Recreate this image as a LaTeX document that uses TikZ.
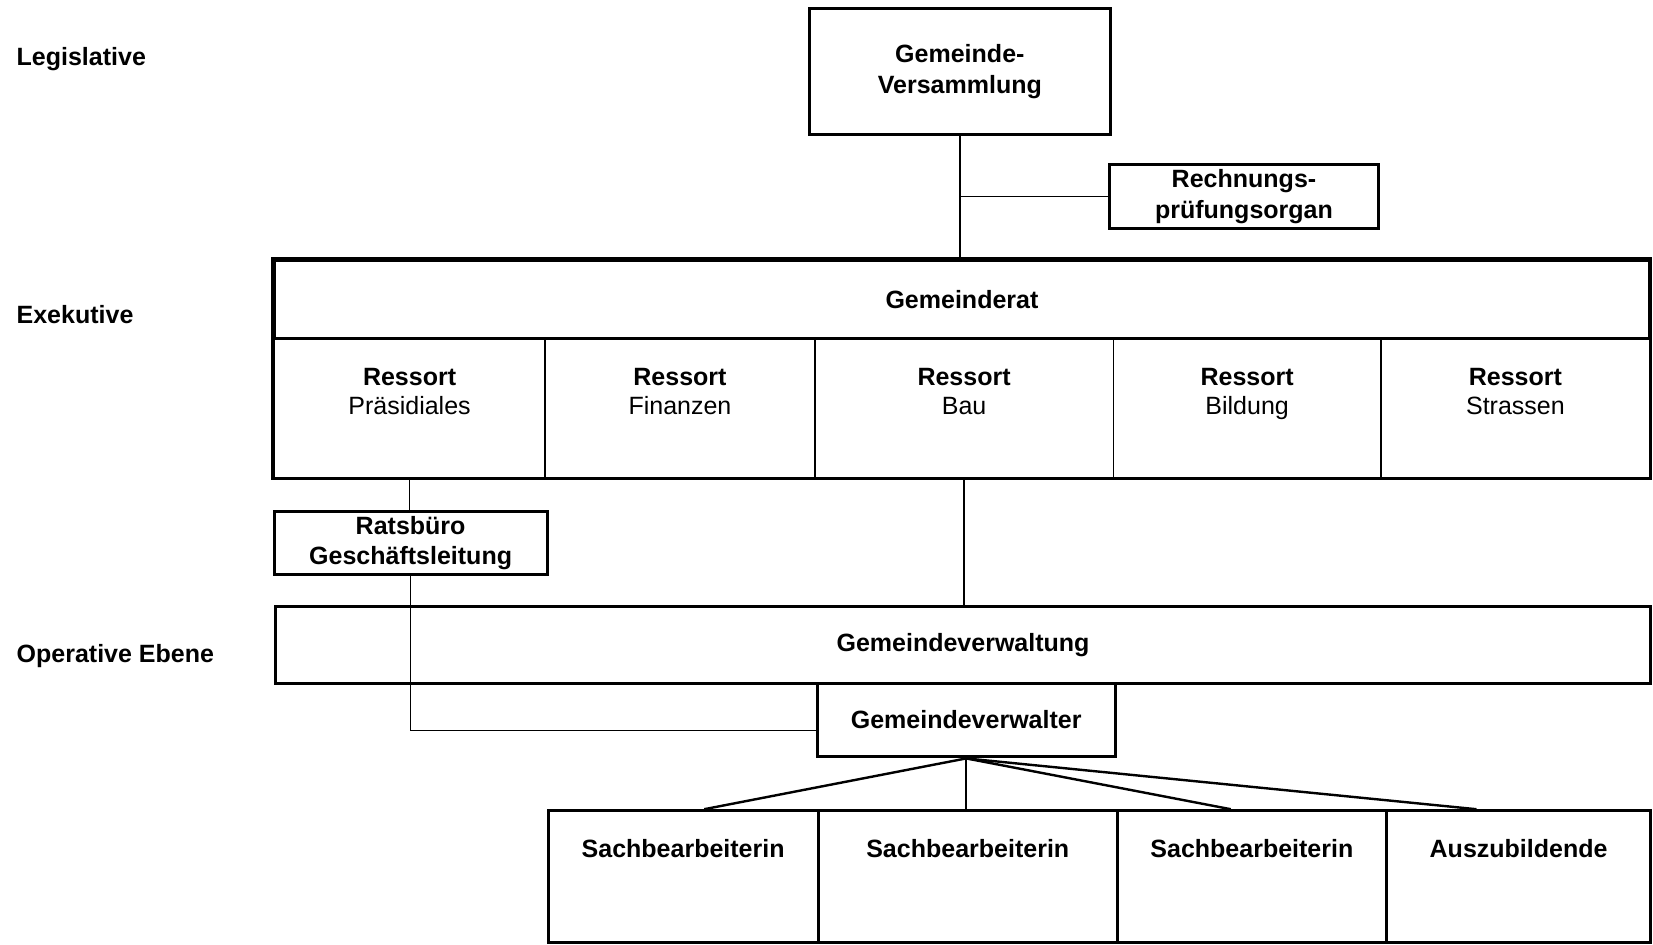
\documentclass[tikz,border=0pt]{standalone}
\usepackage{fontspec}
\setmainfont{Liberation Sans}
\tikzset{
  box/.style={draw, rectangle, line width=1.6pt, inner sep=0pt, align=center, font=\fontsize{13.5}{16.5}\selectfont\bfseries},
  cell/.style={draw, rectangle, line width=0.7pt, inner sep=0pt},
  ressort/.style={anchor=north, inner sep=0pt, yshift=-5.6mm, align=center, font=\fontsize{13.5}{16}\selectfont},
  lvl/.style={anchor=west, inner sep=0pt, font=\fontsize{13.5}{16}\selectfont\bfseries},
}
\begin{document}
\begin{tikzpicture}[x=0.2mm, y=-0.2mm, line width=0.9pt]
\useasboundingbox (0,0) rectangle (1568,896);
\node[lvl] (leg) at (15,56) {Legislative};
\node[lvl] (exe) at (15,298) {Exekutive};
\node[lvl] (ope) at (15,622) {Operative Ebene};

\node[box, minimum width=57mm, minimum height=24mm] (gv) at (910.5,68) {Gemeinde-\\Versammlung};
\node[box, minimum width=51.2mm, minimum height=12.2mm] (rpo) at (1180,186.5) {Rechnungs-\\prüfungsorgan};
\node[box, minimum width=261mm, minimum height=14.8mm] (rat) at (912.5,284) {Gemeinderat};
\node[cell, minimum width=51.4mm, minimum height=26.4mm, label={[ressort]north:\textbf{Ressort}\\Präsidiales}] (r1) at (388.5,387) {};
\node[cell, minimum width=51.2mm, minimum height=26.4mm, label={[ressort]north:\textbf{Ressort}\\Finanzen}] (r2) at (645,387) {};
\node[cell, minimum width=56.6mm, minimum height=26.4mm, label={[ressort]north:\textbf{Ressort}\\Bau}] (r3) at (914.5,387) {};
\node[cell, minimum width=50.8mm, minimum height=26.4mm, label={[ressort]north:\textbf{Ressort}\\Bildung}] (r4) at (1183,387) {};
\node[cell, minimum width=51mm, minimum height=26.4mm, label={[ressort]north:\textbf{Ressort}\\Strassen}] (r5) at (1437.5,387) {};
\draw[line width=1.6pt] (rat.north west) rectangle (r5.south east);

\node[box, minimum width=51.8mm, minimum height=12mm] (rbg) at (389.5,515) {Ratsbüro\\Geschäftsleitung};
\node[box, minimum width=261mm, minimum height=14.6mm] (gvw) at (913.5,611.5) {Gemeindeverwaltung};
\node[box, fill=white, minimum width=56.6mm, minimum height=14mm] (gvr) at (916.5,683) {Gemeindeverwalter};

\node[box, minimum width=51.2mm, minimum height=25mm, label={[ressort, font=\fontsize{13.5}{16}\selectfont\bfseries]north:Sachbearbeiterin}] (sb1) at (648,831.5) {};
\node[box, minimum width=56.8mm, minimum height=25mm, label={[ressort, font=\fontsize{13.5}{16}\selectfont\bfseries]north:Sachbearbeiterin}] (sb2) at (918,831.5) {};
\node[box, minimum width=51mm, minimum height=25mm, label={[ressort, font=\fontsize{13.5}{16}\selectfont\bfseries]north:Sachbearbeiterin}] (sb3) at (1187.5,831.5) {};
\node[box, minimum width=50.2mm, minimum height=25mm, label={[ressort, font=\fontsize{13.5}{16}\selectfont\bfseries]north:Auszubildende}] (azb) at (1440.5,831.5) {};

\draw[] (gv.south) -- (gv.south |- rat.north);
\draw[] (rpo.west) -- (rpo.west -| gv.south);
\draw[] (r1.south) -- (r1.south |- rbg.north);
\draw[] (rbg.south) |- ([yshift=-2mm]gvr.west);
\draw[] (r3.south) -- (r3.south |- gvw.north);
\draw[line width=1.3pt] (gvr.south) -- ([xshift=4mm]sb1.north);
\draw[] (gvr.south) -- (gvr.south |- sb2.north);
\draw[line width=1.3pt] (gvr.south) -- ([xshift=-4mm]sb3.north);
\draw[line width=1.3pt] (gvr.south) -- ([xshift=-8mm]azb.north);

\end{tikzpicture}
\end{document}
